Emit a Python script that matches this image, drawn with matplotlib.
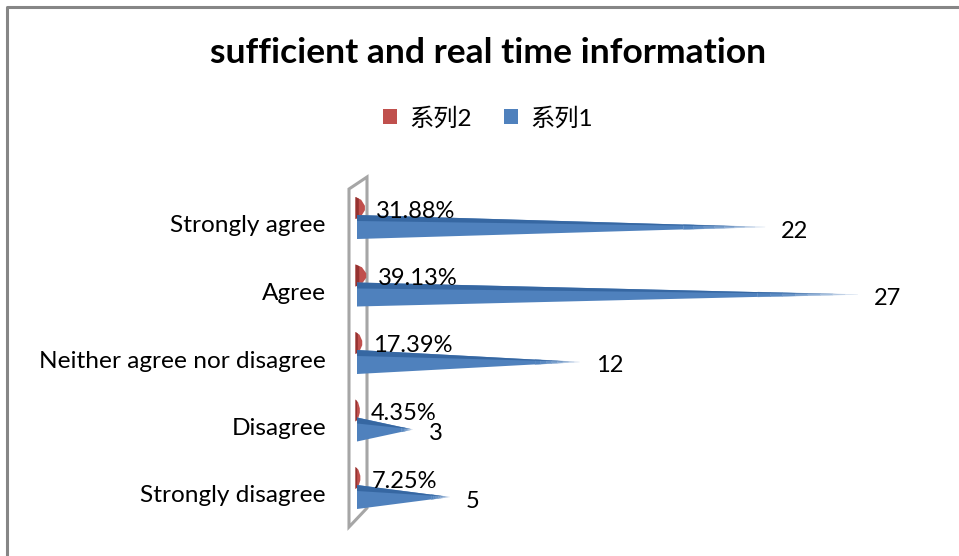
import numpy as np
import matplotlib
matplotlib.use("Agg")
import matplotlib.pyplot as plt
from matplotlib.patches import Polygon, Patch
from matplotlib.colors import to_rgb

plt.rcParams['font.family'] = ['Lato', 'Noto Sans CJK SC', 'DejaVu Sans']

categories = ['Strongly agree', 'Agree', 'Neither agree nor disagree', 'Disagree', 'Strongly disagree']
series1 = [22, 27, 12, 3, 5]                      # counts
series2 = [0.3188, 0.3913, 0.1739, 0.0435, 0.0725]  # share
series2_labels = ['31.88%', '39.13%', '17.39%', '4.35%', '7.25%']
title = 'sufficient and real time information'

W, H = 959, 556
fig = plt.figure(figsize=(W / 100, H / 100), dpi=100)

# plot area in pixels, value 0 sits at x=357px, 18.55 px per unit, rows 67.5 px apart
ax_l, ax_r, ax_t, ax_b = 330, 950, 170, 545
x0, xs = 357, 18.55
y0, ys = 227, 67.5
ax = fig.add_axes([ax_l / W, 1 - ax_b / H, (ax_r - ax_l) / W, (ax_b - ax_t) / H])
ax.set_xlim((ax_l - x0) / xs, (ax_r - x0) / xs)
ax.set_ylim((ax_b - y0) / ys, (ax_t - y0) / ys)
ax.axis('off')

def dx(px):
    return px / xs

def dy(px):
    return px / ys

blue = np.array(to_rgb('#4f81bd'))
white = np.ones(3)

# thin 3d side wall
wall = [(dx(349 - x0), dy(527 - y0)), (dx(349 - x0), dy(189 - y0)),
        (dx(367 - x0), dy(177 - y0)), (dx(367 - x0), dy(508 - y0))]
ax.add_patch(Polygon(wall, closed=True, fill=False, ec='#a6a6a6', lw=2.2, zorder=1))

for i, (v1, v2) in enumerate(zip(series1, series2)):
    c = i
    # red cone (series 2), drawn a bit fatter than its length so it shows
    rc = c - dy(19)
    rh = dy(11)
    b, t = -dx(1.5), v2 + dx(2)
    red = [(b, rc - rh), (b + (t - b) * 0.6, rc - rh * 0.75), (t, rc - rh * 0.2),
           (t, rc + rh * 0.2), (b + (t - b) * 0.6, rc + rh * 0.75), (b, rc + rh)]
    ax.add_patch(Polygon(red, closed=True, fc='#c0504d', ec='none', zorder=2))
    ax.add_patch(Polygon([(b, rc - rh), (b + (t - b) * 0.35, rc - rh * 0.85),
                          (b + (t - b) * 0.35, rc + rh * 0.85), (b, rc + rh)],
                         closed=True, fc='#953230', ec='none', zorder=2))
    # blue cone (series 1), tip fades towards white
    h = dy(12)
    f0 = 0.8
    ax.add_patch(Polygon([(0, c - h), (v1 * f0, c - h * (1 - f0)), (v1 * f0, c + h * (1 - f0)), (0, c + h)],
                         closed=True, fc=blue, ec='none', zorder=3))
    steps = 8
    for k in range(steps):
        fa = f0 + (1 - f0) * k / steps
        fb = f0 + (1 - f0) * (k + 1) / steps
        col = blue + (white - blue) * ((k + 0.5) / steps) ** 1.5 * 0.85
        ax.add_patch(Polygon([(v1 * fa, c - h * (1 - fa)), (v1 * fb, c - h * (1 - fb)),
                              (v1 * fb, c + h * (1 - fb)), (v1 * fa, c + h * (1 - fa))],
                             closed=True, fc=col, ec=col, lw=0.3, zorder=3))
    ax.add_patch(Polygon([(0, c - h), (v1 * 0.97, c - h * 0.03), (0, c - h * 0.5)], closed=True,
                         fc='#3465a0', ec='none', zorder=3, alpha=0.9))
    # labels
    ax.annotate(series2_labels[i], (v2, c - dy(16)), xytext=(9.5, 0), textcoords='offset points',
                ha='left', va='center', fontsize=17, color='#000000', zorder=4)
    ax.annotate(str(v1), (v1, c + dy(4)), xytext=(11.5, 0), textcoords='offset points',
                ha='left', va='center', fontsize=17, color='#000000', zorder=4)
    ax.text(dx(326 - x0), c - dy(1), categories[i], ha='right', va='center',
            fontsize=17.6, color='#000000')

fig.text(488 / W, 1 - 53 / H, title, ha='center', va='center',
         fontsize=25.5, fontweight='bold', color='#000000')

handles = [Patch(fc='#c0504d', ec='none'), Patch(fc='#4f81bd', ec='none')]
fig.legend(handles, ['系列2', '系列1'], loc='center', bbox_to_anchor=(488 / W, 1 - 118 / H),
           ncol=2, frameon=False, fontsize=17.5, handlelength=0.6, handleheight=0.6,
           handletextpad=0.5, columnspacing=1.3)

# chart border (only top and left visible in the capture)
fig.add_artist(plt.Line2D([7 / W, 7 / W, 1], [0, 1 - 7 / H, 1 - 7 / H], color='#868686', lw=2.2))

fig.savefig('out.png', dpi=100, facecolor='white')
